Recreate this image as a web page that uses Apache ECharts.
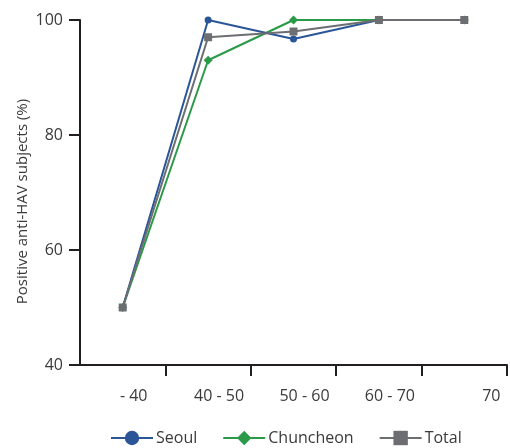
<!DOCTYPE html>
<html><head><meta charset="utf-8">
<script src="https://cdn.jsdelivr.net/npm/echarts@6/dist/echarts.min.js"></script>
<style>html,body{margin:0;padding:0;background:#fff}#c{width:510px;height:448px}</style>
</head><body><div id="c"></div>
<script>
var categories = ['- 40', '40 - 50', '50 - 60', '60 - 70', '70'];
var seoul = [50, 100, 96.7, 100, 100];
var chuncheon = [50, 93, 100, 100, 100];
var total = [50, 97, 98, 100, 100];
var yTicks = [40, 60, 80, 100];

var font = 'Open Sans';
var tickStyle = {color: '#231f20', width: 2};
var chart = echarts.init(document.getElementById('c'));
chart.setOption({
  animation: false,
  grid: {left: 80, right: 3, top: 20, bottom: 83, containLabel: false, outerBoundsMode: 'none'},
  xAxis: {
    type: 'category', data: categories, boundaryGap: true,
    axisLine: {show: true, lineStyle: tickStyle},
    axisTick: {show: true, length: 11, lineStyle: tickStyle, interval: function (i) { return i > 0; }},
    axisLabel: {
      color: '#3a3a3a', fontFamily: font, fontSize: 16, margin: 23, padding: [0, 0, 0, 22],
      formatter: function (v, i) { return i === categories.length - 1 ? '{e|' + v + '}' : v; },
      rich: {e: {color: '#3a3a3a', fontFamily: font, fontSize: 16, padding: [0, 0, 0, 32]}}
    },
    splitLine: {show: false}
  },
  yAxis: {
    type: 'value', min: yTicks[0], max: yTicks[yTicks.length - 1], interval: 20,
    name: 'Positive anti-HAV subjects (%)', nameLocation: 'middle', nameGap: 50, nameMoveOverlap: false,
    nameTextStyle: {color: '#3a3a3a', fontFamily: font, fontSize: 15, padding: [0, 18, 0, 0]},
    axisLine: {show: true, onZero: false, lineStyle: tickStyle},
    axisTick: {show: true, inside: false, length: 11, lineStyle: {color: '#231f20', width: 2, type: 'solid', opacity: 1}},
    axisLabel: {color: '#3a3a3a', fontFamily: font, fontSize: 16, margin: 17},
    splitLine: {show: false}
  },
  legend: {
    left: 110, bottom: 2, padding: 0, itemWidth: 42, itemHeight: 18, itemGap: 25,
    textStyle: {color: '#3a3a3a', fontFamily: font, fontSize: 16, padding: [0, 0, 0, -2]},
    data: ['Seoul', 'Chuncheon', 'Total']
  },
  series: [
    {name: 'Seoul', type: 'line', data: seoul, symbol: 'circle', symbolSize: 7,
     itemStyle: {color: '#2a5597'}, lineStyle: {color: '#2a5597', width: 2}, z: 3},
    {name: 'Chuncheon', type: 'line', data: chuncheon, symbol: 'diamond', symbolSize: 9,
     itemStyle: {color: '#2b9a48'}, lineStyle: {color: '#2b9a48', width: 2}, z: 2},
    {name: 'Total', type: 'line', data: total, symbol: 'rect', symbolSize: 8,
     itemStyle: {color: '#6d6e71'}, lineStyle: {color: '#6d6e71', width: 2}, z: 4}
  ]
});
</script></body></html>
